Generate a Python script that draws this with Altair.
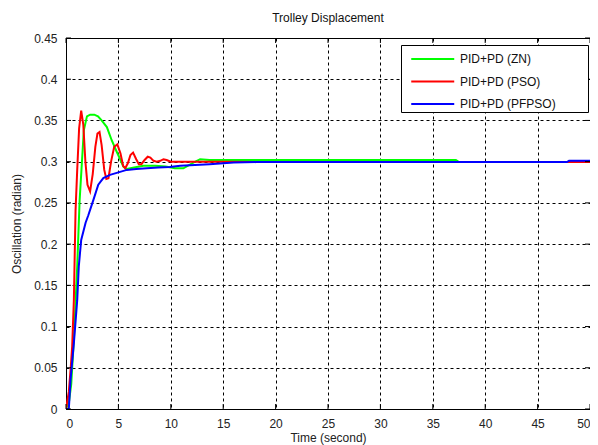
import altair as alt
import pandas as pd

# ---------------- data ----------------
series_names = ["PID+PD (ZN)", "PID+PD (PSO)", "PID+PD (PFPSO)"]
series_colors = ["#00ff00", "#ff0000", "#0000ff"]

zn_t = [0, 0.3, 0.5, 0.75, 1.07, 1.3, 1.55, 1.7, 2.0, 2.3, 2.7, 3.05, 3.4, 3.9, 4.36,
        4.84, 5.2, 5.47, 5.8, 6.5, 7.4, 8.5, 9.5, 10.4, 11.2, 12.2, 12.8, 13.7, 15, 20,
        30, 37.2, 37.5, 50]
zn_v = [0, 0.01, 0.03, 0.084, 0.173, 0.253, 0.306, 0.338, 0.355, 0.357, 0.357, 0.355,
        0.35, 0.342, 0.326, 0.312, 0.302, 0.294, 0.291, 0.293, 0.295, 0.295, 0.294, 0.292,
        0.292, 0.299, 0.303, 0.302, 0.302, 0.302, 0.302, 0.302, 0.2995, 0.2995]

pso_t = [0, 0.27, 0.45, 0.59, 0.75, 0.91, 1.07, 1.25, 1.45, 1.65, 1.85, 2.05, 2.3, 2.55,
         2.8, 3.0, 3.2, 3.4, 3.65, 3.85, 4.05, 4.3, 4.6, 4.9, 5.2, 5.45, 5.65, 5.9, 6.15,
         6.4, 6.7, 6.95, 7.2, 7.5, 7.8, 8.05, 8.35, 8.65, 9.0, 9.3, 9.6, 10.0, 10.5, 11,
         12, 13, 15, 18, 20, 30, 40, 50]
pso_v = [0, 0.021, 0.05, 0.076, 0.132, 0.24, 0.29, 0.34, 0.362, 0.345, 0.3, 0.272, 0.264,
         0.285, 0.318, 0.334, 0.336, 0.32, 0.29, 0.279, 0.28, 0.3, 0.318, 0.321, 0.31,
         0.295, 0.292, 0.298, 0.308, 0.311, 0.303, 0.297, 0.297, 0.302, 0.306, 0.305,
         0.301, 0.3, 0.301, 0.303, 0.302, 0.3, 0.3, 0.3, 0.2998, 0.2998, 0.2998, 0.2997,
         0.2995, 0.2995, 0.2995, 0.2995]

pf_t = [0, 0.27, 0.43, 0.75, 1.07, 1.22, 1.45, 1.87, 2.13, 2.6, 3.08, 3.56, 4.2, 5.0,
        5.8, 6.7, 7.7, 8.8, 9.9, 10.9, 12.3, 13.7, 16, 18.2, 20, 30, 40, 47.8, 48, 50]
pf_v = [0, 0, 0.035, 0.08, 0.132, 0.173, 0.205, 0.226, 0.235, 0.253, 0.272, 0.28, 0.284,
        0.287, 0.29, 0.291, 0.292, 0.293, 0.2935, 0.295, 0.296, 0.297, 0.299, 0.2995,
        0.2995, 0.2995, 0.2995, 0.2995, 0.301, 0.301]

x_ticks = [0, 5, 10, 15, 20, 25, 30, 35, 40, 45, 50]
y_ticks = [0, 0.05, 0.1, 0.15, 0.2, 0.25, 0.3, 0.35, 0.4, 0.45]

# ---------------- chart ----------------
W, H = 524, 371
FONT = "Liberation Sans"


def series_df(t, v, name):
    return pd.DataFrame({"t": t, "v": v, "series": name})


color = alt.Color(
    "series:N",
    scale=alt.Scale(domain=series_names, range=series_colors),
    legend=alt.Legend(
        orient="none", legendX=335, legendY=7,
        title=" ", titleOrient="right", titlePadding=30,
        fillColor="white", strokeColor="black", padding=2,
        symbolType="M-0.35,0H3.65", symbolSize=462, symbolStrokeWidth=2,
        labelOffset=33, rowPadding=4.5, labelFont=FONT, labelFontSize=12,
        labelColor="#111", labelLimit=0,
    ),
)

x_enc = alt.X(
    "t:Q",
    scale=alt.Scale(domain=[0, 50], nice=False, zero=False),
    axis=alt.Axis(values=x_ticks, title="Time (second)", labelPadding=9,
                  titlePadding=3, format="~g"),
)
y_enc = alt.Y(
    "v:Q",
    scale=alt.Scale(domain=[0, 0.45], nice=False),
    axis=alt.Axis(values=y_ticks, title="Oscillation (radian)", labelPadding=9,
                  titlePadding=10, format="~g"),
)

line_layers = []
for t, v, name in [(zn_t, zn_v, series_names[0]),
                   (pso_t, pso_v, series_names[1]),
                   (pf_t, pf_v, series_names[2])]:
    line_layers.append(
        alt.Chart(series_df(t, v, name))
        .mark_line(strokeWidth=2, clip=True)
        .encode(x=x_enc, y=y_enc, color=color)
    )

xt = pd.DataFrame({"t": x_ticks})
yt = pd.DataFrame({"v": y_ticks})
tick_layers = [
    alt.Chart(xt).mark_rule(color="black", strokeWidth=1).encode(
        x=x_enc, y=alt.value(H - 5), y2=alt.value(H)),
    alt.Chart(xt).mark_rule(color="black", strokeWidth=1).encode(
        x=x_enc, y=alt.value(0), y2=alt.value(5)),
    alt.Chart(yt).mark_rule(color="black", strokeWidth=1).encode(
        y=y_enc, x=alt.value(0), x2=alt.value(5)),
    alt.Chart(yt).mark_rule(color="black", strokeWidth=1).encode(
        y=y_enc, x=alt.value(W - 5), x2=alt.value(W)),
]

chart = (
    alt.layer(*line_layers, *tick_layers)
    .properties(
        width=W, height=H,
        background="white",
        title=alt.TitleParams("Trolley Displacement", font=FONT, fontSize=12,
                              fontWeight="normal", color="#111", offset=7,
                              anchor="middle"),
        autosize=alt.AutoSizeParams(type="none"),
        padding={"left": 58, "top": 30, "right": 0, "bottom": 40},
    )
    .configure_view(stroke="black", strokeWidth=1)
    .configure_axis(
        grid=True, gridColor="black", gridDash=[3, 3], gridOpacity=1, gridWidth=1,
        domainColor="black", domainWidth=1, tickSize=0,
        labelFont=FONT, labelFontSize=12, labelColor="#222",
        titleFont=FONT, titleFontSize=12, titleFontWeight="normal", titleColor="#222",
    )
)

chart.save("out.html", embed_options={"renderer": "svg", "actions": False})
